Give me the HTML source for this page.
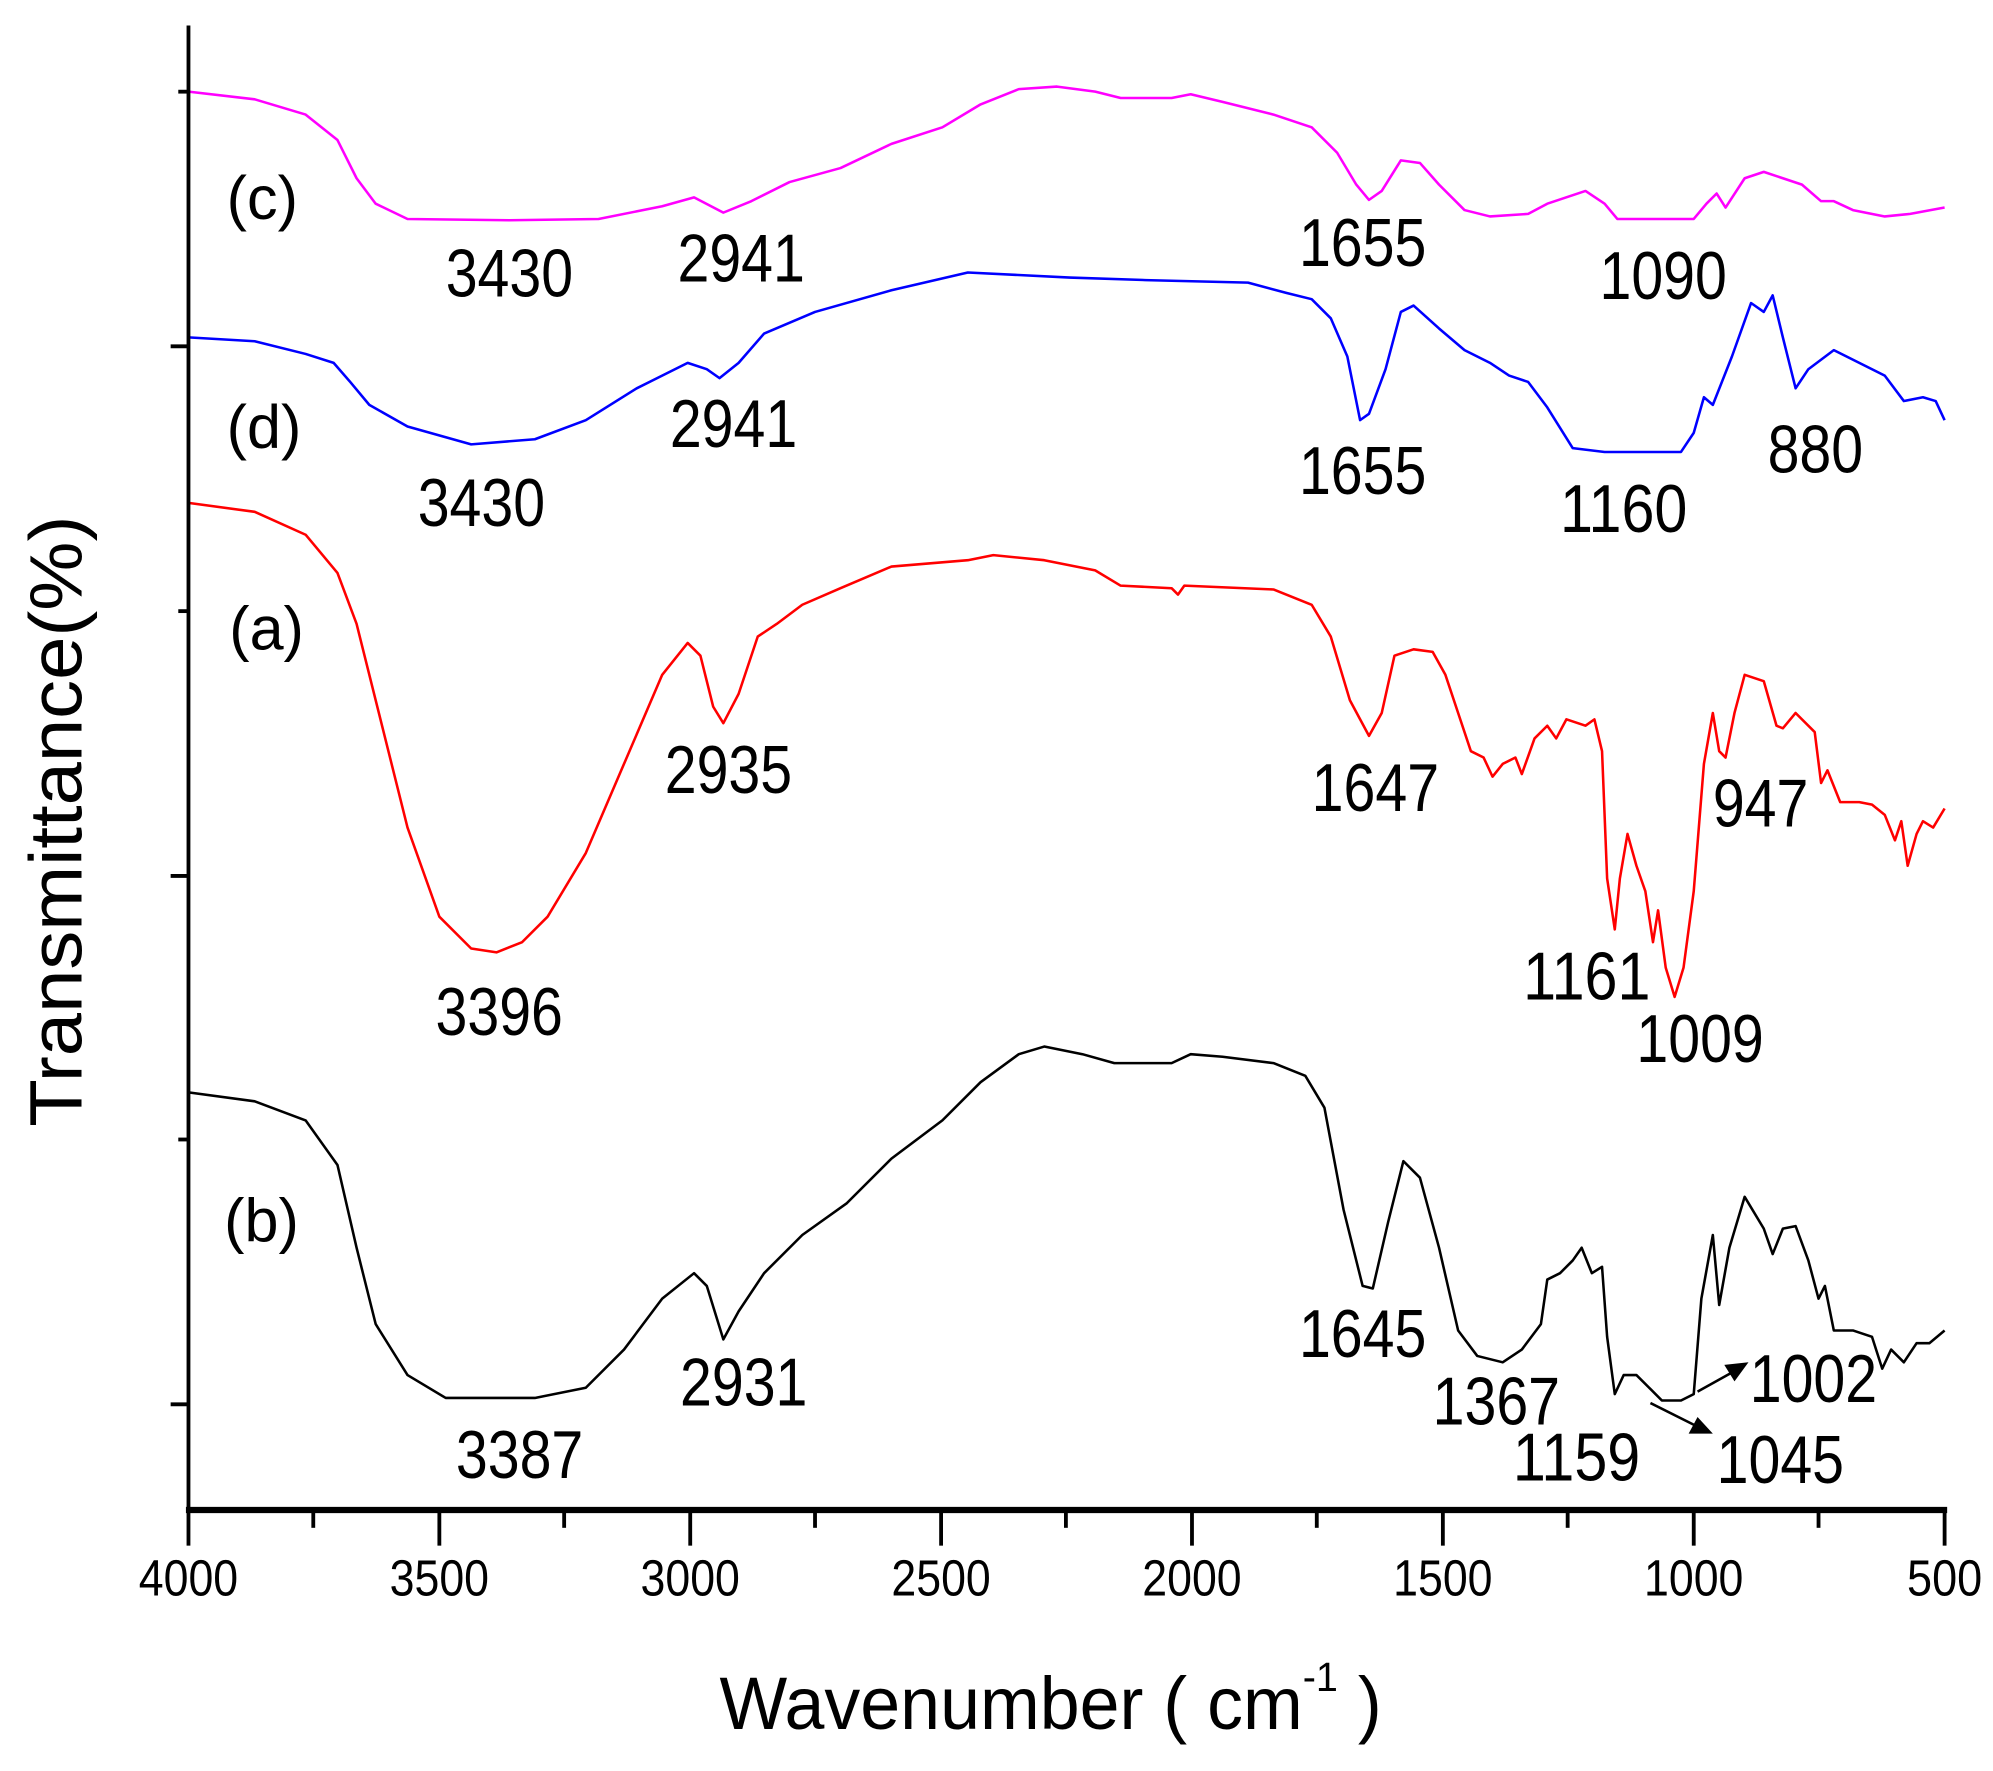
<!DOCTYPE html>
<html><head><meta charset="utf-8"><style>body{margin:0;background:#fff}svg{display:block}</style></head><body>
<svg width="1993" height="1771" viewBox="0 0 1565 1391" preserveAspectRatio="none" xmlns="http://www.w3.org/2000/svg" font-family="Liberation Sans, Arial, sans-serif">
<rect width="1565" height="1391" fill="#fff"/>
<g fill="none" stroke-width="2" stroke-linejoin="round">
<polyline stroke="#ff00ff" points="148,72 200,78 240,90 265,110 280,140 295,160 320,172 400,173 470,172 520,162 545,155 568,167 590,158 620,143 660,132 700,113 740,100 770,82 800,70 830,68 860,72 880,77 920,77 935,74 960,80 1000,90 1030,100 1050,120 1065,145 1075,157 1085,150 1100,126 1115,128 1130,145 1150,165 1170,170 1200,168 1215,160 1230,155 1245,150 1260,160 1270,172 1290,172 1330,172 1340,160 1348,152 1355,163 1370,140 1385,135 1400,140 1415,145 1430,158 1440,158 1455,165 1480,170 1500,168 1527,163"/>
<polyline stroke="#0000ff" points="148,265 200,268 240,278 262,285 275,300 290,318 320,335 370,349 420,345 460,330 500,305 540,285 555,290 565,297 580,285 600,262 640,245 700,228 760,214 840,218 900,220 980,222 1010,230 1030,235 1045,250 1058,280 1068,330 1075,325 1088,290 1100,245 1110,240 1130,258 1150,275 1170,285 1185,295 1200,300 1215,320 1235,352 1260,355 1320,355 1330,340 1338,312 1345,318 1360,280 1375,238 1385,245 1392,232 1400,265 1410,305 1420,290 1440,275 1460,285 1480,295 1495,315 1510,312 1520,315 1527,330"/>
<polyline stroke="#ff0000" points="148,395 200,402 240,420 265,450 280,490 300,570 320,650 345,720 370,745 390,748 410,740 430,720 460,670 490,600 520,530 540,505 550,515 560,555 568,568 580,545 595,500 610,490 630,475 660,462 700,445 760,440 780,436 820,440 860,448 880,460 920,462 925,467 930,460 1000,463 1030,475 1045,500 1060,550 1075,578 1085,560 1095,515 1110,510 1125,512 1135,530 1145,560 1155,590 1165,595 1172,610 1180,600 1190,595 1195,608 1205,580 1215,570 1222,580 1230,565 1245,570 1252,565 1258,590 1262,690 1268,730 1272,690 1278,655 1285,680 1292,700 1298,740 1302,715 1308,760 1315,783 1322,760 1330,700 1338,600 1345,560 1350,590 1355,595 1362,560 1370,530 1385,535 1395,570 1400,572 1410,560 1425,575 1430,615 1435,605 1445,630 1460,630 1470,632 1480,640 1488,660 1493,645 1498,680 1505,655 1510,645 1518,650 1527,635"/>
<polyline stroke="#000" points="148,858 200,865 240,880 265,915 280,980 295,1040 320,1080 350,1098 420,1098 460,1090 490,1060 520,1020 545,1000 555,1010 568,1052 580,1030 600,1000 630,970 665,945 700,910 740,880 770,850 800,828 820,822 850,828 875,835 920,835 935,828 960,830 1000,835 1025,845 1040,870 1055,950 1070,1010 1078,1012 1090,960 1102,912 1115,925 1130,980 1145,1045 1160,1065 1180,1070 1195,1060 1210,1040 1215,1005 1225,1000 1235,990 1242,980 1250,1000 1258,995 1262,1050 1268,1095 1275,1080 1285,1080 1295,1090 1305,1100 1320,1100 1330,1095 1336,1020 1345,970 1350,1025 1358,980 1370,940 1385,965 1392,985 1400,965 1410,963 1420,990 1428,1020 1433,1010 1440,1045 1455,1045 1470,1050 1478,1075 1485,1060 1495,1070 1505,1055 1515,1055 1527,1045"/>
</g>
<g stroke="#000">
<line x1="148" y1="20" x2="148" y2="1188" stroke-width="3"/>
<line x1="146" y1="1186" x2="1529" y2="1186" stroke-width="5"/>
<g stroke-width="3">
<line x1="134" y1="272" x2="148" y2="272"/><line x1="134" y1="688" x2="148" y2="688"/><line x1="134" y1="1103" x2="148" y2="1103"/>
<line x1="140" y1="72" x2="148" y2="72"/><line x1="140" y1="480" x2="148" y2="480"/><line x1="140" y1="895" x2="148" y2="895"/>
</g>
<g stroke-width="3">
<line x1="148" y1="1187" x2="148" y2="1214"/><line x1="345" y1="1187" x2="345" y2="1214"/><line x1="542" y1="1187" x2="542" y2="1214"/><line x1="739" y1="1187" x2="739" y2="1214"/><line x1="936" y1="1187" x2="936" y2="1214"/><line x1="1133" y1="1187" x2="1133" y2="1214"/><line x1="1330" y1="1187" x2="1330" y2="1214"/><line x1="1527" y1="1187" x2="1527" y2="1214"/>
<line x1="246" y1="1187" x2="246" y2="1200"/><line x1="443" y1="1187" x2="443" y2="1200"/><line x1="640" y1="1187" x2="640" y2="1200"/><line x1="837" y1="1187" x2="837" y2="1200"/><line x1="1034" y1="1187" x2="1034" y2="1200"/><line x1="1231" y1="1187" x2="1231" y2="1200"/><line x1="1428" y1="1187" x2="1428" y2="1200"/>
</g>
<g stroke-width="2">
<line x1="1333" y1="1093" x2="1360" y2="1078"/><line x1="1296" y1="1102" x2="1332" y2="1120"/>
</g>
</g>
<polygon points="1373,1070 1354,1072 1362,1085" fill="#000"/>
<polygon points="1345,1126 1326,1126 1333,1113" fill="#000"/>
<g font-size="40" text-anchor="middle" fill="#000" lengthAdjust="spacingAndGlyphs">
<text x="148" y="1253" textLength="78" lengthAdjust="spacingAndGlyphs">4000</text><text x="345" y="1253" textLength="78" lengthAdjust="spacingAndGlyphs">3500</text><text x="542" y="1253" textLength="78" lengthAdjust="spacingAndGlyphs">3000</text><text x="739" y="1253" textLength="78" lengthAdjust="spacingAndGlyphs">2500</text><text x="936" y="1253" textLength="78" lengthAdjust="spacingAndGlyphs">2000</text><text x="1133" y="1253" textLength="78" lengthAdjust="spacingAndGlyphs">1500</text><text x="1330" y="1253" textLength="78" lengthAdjust="spacingAndGlyphs">1000</text><text x="1527" y="1253" textLength="59" lengthAdjust="spacingAndGlyphs">500</text>
</g>
<text x="565" y="1358" font-size="58" textLength="520" lengthAdjust="spacingAndGlyphs">Wavenumber ( cm<tspan font-size="32" dy="-30">-1</tspan><tspan dy="30"> )</tspan></text>
<text transform="translate(64,645) rotate(-90)" font-size="58" text-anchor="middle" textLength="480" lengthAdjust="spacingAndGlyphs">Transmittance(%)</text>
<g font-size="48" fill="#000">
<text x="178" y="172">(c)</text><text x="178" y="352">(d)</text><text x="180" y="510">(a)</text><text x="176" y="975">(b)</text>
</g>
<g font-size="53" fill="#000">
<text x="350" y="233" textLength="100" lengthAdjust="spacingAndGlyphs">3430</text>
<text x="532" y="221" textLength="100" lengthAdjust="spacingAndGlyphs">2941</text>
<text x="1020" y="209" textLength="100" lengthAdjust="spacingAndGlyphs">1655</text>
<text x="1256" y="235" textLength="100" lengthAdjust="spacingAndGlyphs">1090</text>
<text x="328" y="413" textLength="100" lengthAdjust="spacingAndGlyphs">3430</text>
<text x="526" y="351" textLength="100" lengthAdjust="spacingAndGlyphs">2941</text>
<text x="1020" y="388" textLength="100" lengthAdjust="spacingAndGlyphs">1655</text>
<text x="1225" y="418" textLength="100" lengthAdjust="spacingAndGlyphs">1160</text>
<text x="1388" y="371" textLength="75" lengthAdjust="spacingAndGlyphs">880</text>
<text x="522" y="623" textLength="100" lengthAdjust="spacingAndGlyphs">2935</text>
<text x="1030" y="637" textLength="100" lengthAdjust="spacingAndGlyphs">1647</text>
<text x="1345" y="649" textLength="75" lengthAdjust="spacingAndGlyphs">947</text>
<text x="342" y="813" textLength="100" lengthAdjust="spacingAndGlyphs">3396</text>
<text x="1196" y="785" textLength="100" lengthAdjust="spacingAndGlyphs">1161</text>
<text x="1285" y="834" textLength="100" lengthAdjust="spacingAndGlyphs">1009</text>
<text x="534" y="1104" textLength="100" lengthAdjust="spacingAndGlyphs">2931</text>
<text x="1020" y="1066" textLength="100" lengthAdjust="spacingAndGlyphs">1645</text>
<text x="1125" y="1119" textLength="100" lengthAdjust="spacingAndGlyphs">1367</text>
<text x="1374" y="1101" textLength="100" lengthAdjust="spacingAndGlyphs">1002</text>
<text x="358" y="1161" textLength="100" lengthAdjust="spacingAndGlyphs">3387</text>
<text x="1188" y="1163" textLength="100" lengthAdjust="spacingAndGlyphs">1159</text>
<text x="1348" y="1165" textLength="100" lengthAdjust="spacingAndGlyphs">1045</text>
</g>
</svg>
</body></html>
